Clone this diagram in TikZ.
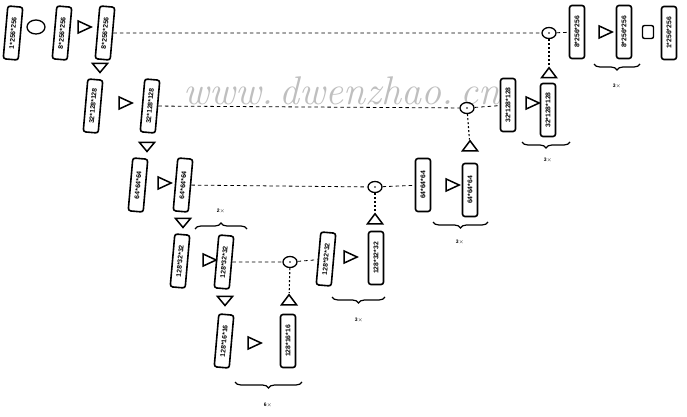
\documentclass[tikz,border=0pt]{standalone}
\usetikzlibrary{shapes.geometric,decorations.pathreplacing}
\usepackage{fontspec}
\newfontfamily\boxfont{Liberation Sans}
\begin{document}
\begin{tikzpicture}[x=1pt,y=-1pt,
  box/.style={draw,line width=1.6pt,rounded corners=2.5pt,minimum width=53pt,minimum height=15pt,inner sep=0pt,rotate=90,font=\boxfont\fontsize{6.8}{7}\selectfont\bfseries},
  sbox/.style={box,rotate=-5},
  tri/.style={draw,line width=1.5pt,isosceles triangle,isosceles triangle stretches,minimum width=12pt,minimum height=13pt,inner sep=0pt},
  trd/.style={tri,shape border rotate=270,minimum width=15pt,minimum height=9pt},
  tru/.style={tri,shape border rotate=90,minimum width=15pt,minimum height=10pt},
  odot/.style={draw,line width=1.3pt,ellipse,minimum width=14pt,minimum height=11pt,inner sep=0pt},
  dline/.style={line width=0.8pt,dash pattern=on 3.5pt off 3pt},
  vline/.style={line width=1.1pt,dash pattern=on 2pt off 2pt},
  brc/.style={decorate,decoration={brace,amplitude=6pt},line width=1.2pt},
  lbl/.style={font=\boxfont\fontsize{5}{6}\selectfont\bfseries}]
\useasboundingbox (0,0) rectangle (687,417);
% watermark
\node[text=black!25,font=\fontsize{40}{40}\selectfont\itshape] (wm) at (342,91) {www.\,dwenzhao.\,cn};
% row 1
\node[sbox] (a1) at (13,33) {1*256*256};
\node[draw,line width=1.3pt,ellipse,minimum width=18pt,minimum height=14pt,inner sep=0pt] (e1) at (36,27) {};
\node[sbox] (a2) at (62,33) {8*256*256};
\node[tri] (t1) at (82,27) {};
\node[sbox] (a3) at (105,33) {8*256*256};
\node[odot] (c1) at (549,33) {};
\fill (c1) circle (0.9pt);
\node[box] (r1a) at (577,32) {8*256*256};
\node[tri] (t1r) at (603,32) {};
\node[box] (r1b) at (624,32) {8*256*256};
\node[draw,line width=1.4pt,rounded corners=2pt,minimum width=11pt,minimum height=13pt,inner sep=0pt] (sq) at (648,32) {};
\node[box] (r1c) at (669,33) {1*256*256};
\draw[dline] (a3) -- (c1);
\draw[dline] (c1) -- (r1a);
\draw[brc] (640,64) -- (594,64);
\node[lbl] (l1) at (617,86) {3$\times$};
% row 2
\node[trd] (d1) at (100,67) {};
\node[sbox] (b1) at (93,106) {32*128*128};
\node[tri] (t2) at (123,103) {};
\node[sbox] (b2) at (150,106) {32*128*128};
\node[odot] (c2) at (467,108) {};
\fill (c2) circle (0.9pt);
\node[box] (r2a) at (508,105) {32*128*128};
\node[tri] (t2r) at (530,103) {};
\node[box] (r2b) at (548,110) {32*128*128};
\node[tru] (u1) at (549,74) {};
\draw[vline] (c1) -- (u1);
\draw[dline] (b2) -- (c2);
\draw[dline] (c2) -- (r2a);
\draw[brc] (570,142) -- (522,142);
\node[lbl] (l2) at (548,160) {3$\times$};
% row 3
\node[trd] (d2) at (147,146) {};
\node[sbox] (g1) at (138,185) {64*64*64};
\node[tri] (t3) at (162,183) {};
\node[sbox] (g2) at (183,185) {64*64*64};
\node[odot] (c3) at (375,187) {};
\fill (c3) circle (0.9pt);
\node[box] (r3a) at (423,185) {64*64*64};
\node[tri] (t3r) at (450,185) {};
\node[box] (r3b) at (470,190) {64*64*64};
\node[tru] (u2) at (470,147) {};
\draw[vline] (c2) -- (u2);
\draw[dline] (g2) -- (c3);
\draw[dline] (c3) -- (r3a);
\draw[brc] (488,222) -- (433,222);
\node[lbl] (l3) at (460,242) {3$\times$};
% row 4
\node[trd] (d3) at (183,222) {};
\node[sbox] (h1) at (180,261) {128*32*32};
\node[tri] (t4) at (207,260) {};
\node[sbox] (h2) at (224,262) {128*32*32};
\node[odot] (c4) at (290,262) {};
\fill (c4) circle (0.9pt);
\node[sbox] (r4a) at (326,259) {128*32*32};
\node[tri] (t4r) at (348,257) {};
\node[box] (r4b) at (376,258) {128*32*32};
\node[tru] (u3) at (375,220) {};
\draw[vline] (c3) -- (u3);
\draw[dline] (h2) -- (c4);
\draw[dline] (c4) -- (r4a);
\draw[brc] (195,229) -- (247,229);
\node[lbl] (l4) at (221,211) {2$\times$};
\draw[brc] (385,297) -- (332,297);
\node[lbl] (l5) at (359,320) {3$\times$};
% row 5
\node[trd] (d4) at (225,300) {};
\node[sbox] (j1) at (224,341) {128*16*16};
\node[tri] (t5) at (252,343) {};
\node[box] (j2) at (288,341) {128*16*16};
\node[tru] (u4) at (289,301) {};
\draw[vline] (c4) -- (u4);
\draw[brc] (302,382) -- (235,382);
\node[lbl] (l6) at (268,405) {6$\times$};
\end{tikzpicture}
\end{document}
